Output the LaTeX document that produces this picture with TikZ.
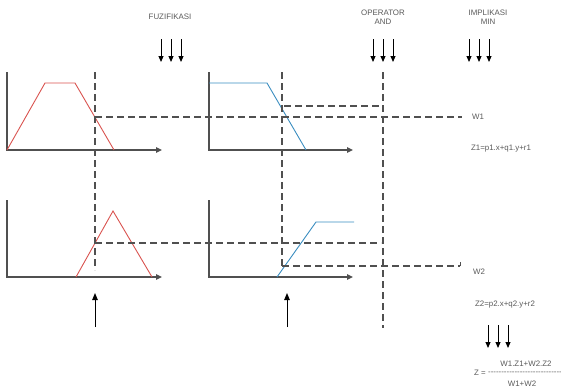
\documentclass[tikz,border=0pt]{standalone}
\usepackage{fontspec}
\setmainfont{Liberation Sans}
\usetikzlibrary{arrows.meta}
\definecolor{axisgray}{HTML}{505050}
\definecolor{dashgray}{HTML}{505050}
\definecolor{txtgray}{HTML}{5A5A5A}
\definecolor{mfred}{HTML}{D9534F}
\definecolor{mfblue}{HTML}{3A8DC0}
\begin{document}
\begin{tikzpicture}[x=1pt,y=-1pt,
  axisline/.style={draw=axisgray, line width=1.4pt, -{Triangle[length=6pt,width=5.5pt]}},
  dsh/.style={draw=dashgray, line width=1.3pt, dash pattern=on 7pt off 4pt},
  redmf/.style={draw=mfred, line width=0.9pt},
  bluemf/.style={draw=mfblue, line width=0.9pt},
  lbl/.style={font=\fontsize{7.9}{9.3}\selectfont, text=txtgray, inner sep=0pt, align=center},
  downarr/.style={draw=black, line width=1pt, -{Triangle[length=6pt,width=5pt]}},
  uparr/.style={draw=black, line width=1pt, -{Triangle[length=7pt,width=5.5pt]}}
]
\useasboundingbox (0,0) rectangle (561,391);

% ---------- panel 1 (top left) ----------
\coordinate (a1t) at (7,72);
\coordinate (a1o) at (7,150);
\coordinate (a1e) at (162,150);
\draw[axisline] (a1t) -- (a1o) -- (a1e);
\coordinate (r1a) at (7,150);
\coordinate (r1b) at (45,83);
\coordinate (r1c) at (75,83);
\coordinate (r1d) at (114,150);
\draw[redmf] (r1a) -- (r1b) -- (r1c) -- (r1d);

% ---------- panel 2 (top middle) ----------
\coordinate (a2t) at (209,72);
\coordinate (a2o) at (209,150);
\coordinate (a2e) at (353,150);
\draw[axisline] (a2t) -- (a2o) -- (a2e);
\coordinate (b1a) at (209,83);
\coordinate (b1b) at (267,83);
\coordinate (b1c) at (306,150);
\draw[bluemf] (b1a) -- (b1b) -- (b1c);

% ---------- panel 3 (bottom left) ----------
\coordinate (a3t) at (7,200);
\coordinate (a3o) at (7,277);
\coordinate (a3e) at (162,277);
\draw[axisline] (a3t) -- (a3o) -- (a3e);
\coordinate (r2a) at (76,277);
\coordinate (r2b) at (113,211);
\coordinate (r2c) at (152,277);
\draw[redmf] (r2a) -- (r2b) -- (r2c);

% ---------- panel 4 (bottom middle) ----------
\coordinate (a4t) at (209,200);
\coordinate (a4o) at (209,277);
\coordinate (a4e) at (353,277);
\draw[axisline] (a4t) -- (a4o) -- (a4e);
\coordinate (b2a) at (277,277);
\coordinate (b2b) at (316,222);
\coordinate (b2c) at (354,222);
\draw[bluemf] (b2a) -- (b2b) -- (b2c);

% ---------- dashed guide lines ----------
\coordinate (v1t) at (95,72);
\coordinate (v1b) at (95,270);
\draw[dsh] (v1t) -- (v1b);
\coordinate (v2t) at (282,72);
\coordinate (v2b) at (282,266);
\draw[dsh] (v2t) -- (v2b);
\coordinate (v3t) at (383,72);
\coordinate (v3b) at (383,328);
\draw[dsh] (v3t) -- (v3b);

\coordinate (h1s) at (95,117);
\coordinate (h1e) at (462,117);
\draw[dsh] (h1s) -- (h1e);
\coordinate (h2s) at (284,106);
\coordinate (h2e) at (381,106);
\draw[dsh] (h2s) -- (h2e);
\coordinate (h3s) at (95,243);
\coordinate (h3e) at (381,243);
\draw[dsh] (h3s) -- (h3e);
\coordinate (h4s) at (282,266);
\coordinate (h4e) at (460,266);
\coordinate (h4k) at (460,262);
\draw[dsh] (h4s) -- (h4e);
\draw[draw=dashgray, line width=1pt] (h4e) -- (h4k);

% ---------- headings ----------
\node[lbl] (fuz) at (170,17) {FUZIFIKASI};
\node[lbl] (opand) at (383,17) {OPERATOR\\AND};
\node[lbl] (impl) at (488,17) {IMPLIKASI\\MIN};

% down arrow groups
\foreach \x [count=\i] in {161,171,181}{
  \coordinate (fa\i s) at (\x,39); \coordinate (fa\i e) at (\x,62);
  \draw[downarr] (fa\i s) -- (fa\i e);}
\foreach \x [count=\i] in {373,383,393}{
  \coordinate (oa\i s) at (\x,39); \coordinate (oa\i e) at (\x,62);
  \draw[downarr] (oa\i s) -- (oa\i e);}
\foreach \x [count=\i] in {469,479,489}{
  \coordinate (ia\i s) at (\x,39); \coordinate (ia\i e) at (\x,62);
  \draw[downarr] (ia\i s) -- (ia\i e);}
\foreach \x [count=\i] in {488,498,508}{
  \coordinate (za\i s) at (\x,325); \coordinate (za\i e) at (\x,348);
  \draw[downarr] (za\i s) -- (za\i e);}

% up arrows (inputs)
\coordinate (u1s) at (95,327);
\coordinate (u1e) at (95,293);
\draw[uparr] (u1s) -- (u1e);
\coordinate (u2s) at (287,327);
\coordinate (u2e) at (287,293);
\draw[uparr] (u2s) -- (u2e);

% ---------- right-hand labels ----------
\node[lbl] (w1) at (478,117) {W1};
\node[lbl] (z1) at (501,149) {Z1=p1.x+q1.y+r1};
\node[lbl] (w2) at (479,272) {W2};
\node[lbl] (z2) at (505,305) {Z2=p2.x+q2.y+r2};
\node[lbl, anchor=west] (zeq) at (474,373) {Z =};
\node[lbl, anchor=west] (zbar) at (488,373) {-{}-{}-{}-{}-{}-{}-{}-{}-{}-{}-{}-{}-{}-{}-{}-{}-{}-{}-{}-{}-{}-{}-{}-{}-{}-{}-{}-};
\node[lbl] (znum) at (526,364) {W1.Z1+W2.Z2};
\node[lbl] (zden) at (522,384) {W1+W2};
\end{tikzpicture}
\end{document}
